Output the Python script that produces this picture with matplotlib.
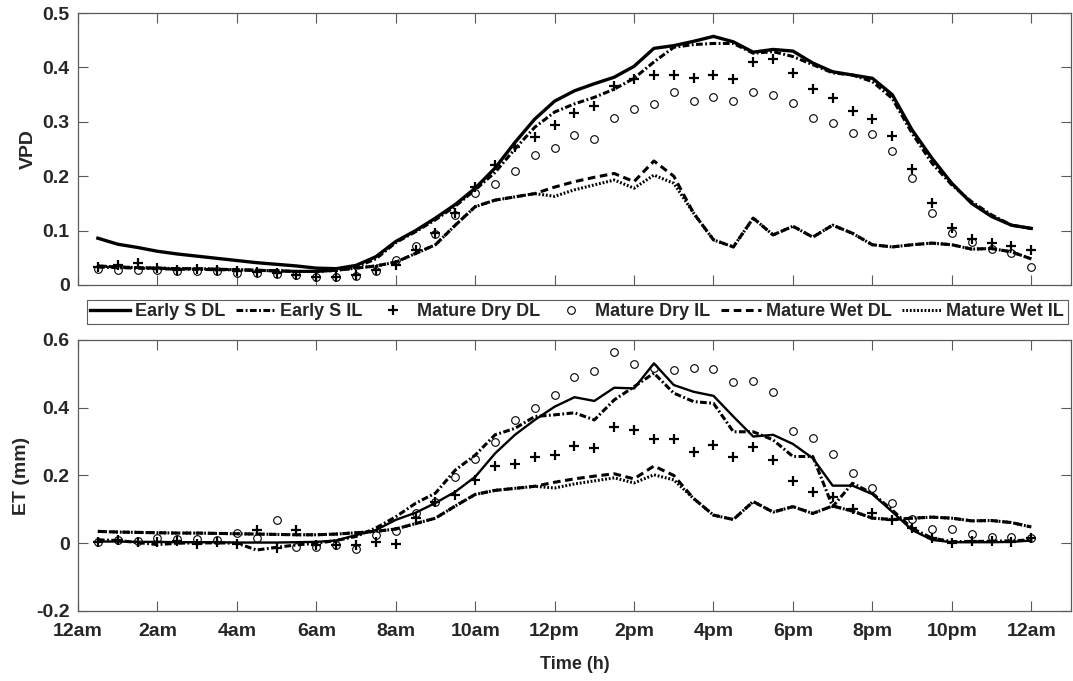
import matplotlib
matplotlib.use("Agg")
import matplotlib.pyplot as plt

plt.rcParams["font.family"] = ["Liberation Sans", "DejaVu Sans"]
plt.rcParams["font.weight"] = "bold"

# half-hourly time stamps, 0.5 h ... 24 h
hours = [0.5 * (i + 1) for i in range(48)]

tick_hours = [0, 2, 4, 6, 8, 10, 12, 14, 16, 18, 20, 22, 24]
tick_labels = ["12am", "2am", "4am", "6am", "8am", "10am", "12pm",
               "2pm", "4pm", "6pm", "8pm", "10pm", "12am"]

# ---- VPD (top panel) ----
vpd_early_dl = [0.086, 0.075, 0.069, 0.062, 0.057, 0.053, 0.049, 0.045, 0.041, 0.038,
                0.035, 0.031, 0.030, 0.036, 0.052, 0.080, 0.100, 0.123, 0.148, 0.178,
                0.215, 0.262, 0.305, 0.338, 0.357, 0.370, 0.382, 0.402, 0.435, 0.440,
                0.448, 0.457, 0.447, 0.428, 0.433, 0.430, 0.408, 0.392, 0.386, 0.380,
                0.350, 0.285, 0.233, 0.187, 0.150, 0.126, 0.110, 0.104]
vpd_early_il = [0.033, 0.032, 0.031, 0.030, 0.029, 0.029, 0.028, 0.028, 0.027, 0.026,
                0.025, 0.025, 0.027, 0.033, 0.048, 0.078, 0.098, 0.120, 0.145, 0.175,
                0.207, 0.250, 0.290, 0.318, 0.333, 0.345, 0.360, 0.380, 0.410, 0.437,
                0.442, 0.444, 0.444, 0.426, 0.429, 0.420, 0.405, 0.390, 0.386, 0.374,
                0.343, 0.279, 0.224, 0.184, 0.153, 0.129, 0.110, 0.104]
vpd_dry_dl = [0.033, 0.037, 0.040, 0.031, 0.028, 0.029, 0.028, 0.026, 0.024, 0.022,
              0.018, 0.015, 0.015, 0.018, 0.028, 0.037, 0.064, 0.095, 0.132, 0.180,
              0.220, 0.254, 0.272, 0.294, 0.316, 0.329, 0.366, 0.378, 0.386, 0.386,
              0.381, 0.386, 0.378, 0.410, 0.415, 0.390, 0.361, 0.343, 0.320, 0.305,
              0.273, 0.214, 0.150, 0.104, 0.084, 0.077, 0.072, 0.064]
vpd_dry_il = [0.030, 0.028, 0.027, 0.027, 0.026, 0.025, 0.025, 0.022, 0.022, 0.020,
              0.018, 0.015, 0.015, 0.017, 0.025, 0.046, 0.072, 0.094, 0.128, 0.169,
              0.186, 0.210, 0.239, 0.252, 0.276, 0.268, 0.307, 0.324, 0.333, 0.355,
              0.339, 0.345, 0.339, 0.355, 0.349, 0.335, 0.307, 0.298, 0.279, 0.278,
              0.246, 0.196, 0.132, 0.095, 0.079, 0.066, 0.059, 0.033]
# the wet-season curves are drawn identically in both panels of the original
wet_dl = [0.035, 0.033, 0.032, 0.031, 0.030, 0.030, 0.029, 0.028, 0.027, 0.026,
          0.025, 0.025, 0.027, 0.031, 0.035, 0.042, 0.058, 0.074, 0.110, 0.144,
          0.156, 0.162, 0.168, 0.180, 0.190, 0.198, 0.205, 0.190, 0.228, 0.200,
          0.132, 0.083, 0.070, 0.123, 0.092, 0.108, 0.088, 0.110, 0.095, 0.074,
          0.070, 0.074, 0.077, 0.074, 0.066, 0.067, 0.061, 0.048]
wet_il = [0.035, 0.033, 0.032, 0.031, 0.030, 0.030, 0.029, 0.028, 0.027, 0.026,
          0.025, 0.025, 0.027, 0.031, 0.035, 0.042, 0.058, 0.074, 0.110, 0.144,
          0.156, 0.162, 0.168, 0.163, 0.175, 0.184, 0.193, 0.178, 0.202, 0.187,
          0.132, 0.083, 0.070, 0.123, 0.092, 0.108, 0.088, 0.110, 0.095, 0.074,
          0.070, 0.074, 0.077, 0.074, 0.066, 0.067, 0.061, 0.048]

# ---- ET (bottom panel) ----
et_early_dl = [0.005, 0.005, 0.004, 0.004, 0.003, 0.003, 0.003, 0.002, 0.002, 0.002,
               0.003, 0.004, 0.008, 0.024, 0.039, 0.069, 0.090, 0.119, 0.152, 0.196,
               0.265, 0.320, 0.364, 0.403, 0.431, 0.420, 0.459, 0.457, 0.531, 0.467,
               0.447, 0.435, 0.374, 0.315, 0.320, 0.293, 0.251, 0.170, 0.170, 0.145,
               0.093, 0.039, 0.010, 0.003, 0.003, 0.003, 0.004, 0.008]
et_early_il = [0.010, 0.008, 0.002, -0.004, 0.000, 0.001, 0.001, 0.000, -0.020, -0.012,
               -0.005, 0.000, 0.008, 0.020, 0.045, 0.078, 0.118, 0.148, 0.216, 0.260,
               0.320, 0.339, 0.374, 0.379, 0.385, 0.364, 0.423, 0.462, 0.502, 0.443,
               0.418, 0.413, 0.329, 0.329, 0.305, 0.256, 0.256, 0.108, 0.177, 0.147,
               0.098, 0.044, 0.015, 0.005, 0.005, 0.006, 0.007, 0.010]
et_dry_dl = [0.003, 0.010, 0.003, 0.005, 0.008, -0.002, 0.005, -0.002, 0.040, -0.015,
             0.040, -0.005, -0.005, -0.005, 0.005, -0.002, 0.074, 0.123, 0.142, 0.187,
             0.228, 0.234, 0.255, 0.260, 0.287, 0.282, 0.344, 0.334, 0.308, 0.308,
             0.268, 0.291, 0.256, 0.285, 0.246, 0.184, 0.152, 0.137, 0.100, 0.090,
             0.069, 0.044, 0.015, 0.002, 0.008, 0.007, 0.005, 0.015]
et_dry_il = [0.003, 0.010, 0.008, 0.015, 0.012, 0.012, 0.010, 0.030, 0.015, 0.069,
             -0.012, -0.010, -0.005, -0.017, 0.024, 0.037, 0.090, 0.123, 0.196, 0.248,
             0.300, 0.364, 0.398, 0.438, 0.492, 0.509, 0.565, 0.528, 0.518, 0.511,
             0.516, 0.514, 0.475, 0.479, 0.447, 0.331, 0.310, 0.262, 0.206, 0.162,
             0.118, 0.072, 0.041, 0.043, 0.027, 0.018, 0.018, 0.015]

labels = ["Early S DL", "Early S IL", "Mature Dry DL",
          "Mature Dry IL", "Mature Wet DL", "Mature Wet IL"]

STYLE = {
    "Early S DL":    dict(color="black", linewidth=2.0, linestyle="-"),
    "Early S IL":    dict(color="black", linewidth=2.2, linestyle=(0, (2.2, 0.8, 0.6, 0.8))),
    "Mature Dry DL": dict(color="black", linestyle="none", marker="+",
                         markersize=7.5, markeredgewidth=1.6),
    "Mature Dry IL": dict(color="black", linestyle="none", marker="o",
                         markersize=5.5, markerfacecolor="none", markeredgewidth=0.8),
    "Mature Wet DL": dict(color="black", linewidth=2.2, linestyle=(0, (2.5, 1.5))),
    "Mature Wet IL": dict(color="black", linewidth=2.2, linestyle=(0, (0.6, 0.6))),
}

FRAME = "#5a5a5a"
TEXT = "#262626"

fig = plt.figure(figsize=(10.73, 6.81), dpi=100)
ax1 = fig.add_axes([0.0727, 0.5815, 0.9254, 0.3994])
ax2 = fig.add_axes([0.0727, 0.1028, 0.9254, 0.398])

top_series = [vpd_early_dl, vpd_early_il, vpd_dry_dl, vpd_dry_il, wet_dl, wet_il]
bot_series = [et_early_dl, et_early_il, et_dry_dl, et_dry_il, wet_dl, wet_il]

for ax, series, solid_lw in ((ax1, top_series, 2.4), (ax2, bot_series, 1.7)):
    for name, vals in zip(labels, series):
        st = dict(STYLE[name])
        if name == "Early S DL":
            st["linewidth"] = solid_lw
        ax.plot(hours, vals, label=name, **st)
    ax.set_xlim(0, 25)
    ax.set_xticks(tick_hours)
    ax.tick_params(direction="in", top=True, right=True, length=7, width=0.8,
                   color=FRAME, labelcolor=TEXT, labelsize=14)
    ax.tick_params(axis="x", pad=9)
    ax.tick_params(axis="y", pad=6)
    for sp in ax.spines.values():
        sp.set_color(FRAME)
        sp.set_linewidth(0.9)

ax1.set_ylim(0, 0.5)
ax1.set_yticks([0, 0.1, 0.2, 0.3, 0.4, 0.5])
ax1.set_yticklabels(["0", "0.1", "0.2", "0.3", "0.4", "0.5"])
ax1.set_xticklabels([])
ax1.set_ylabel("VPD", fontsize=14, fontweight="bold", color=TEXT)
ax1.yaxis.set_label_coords(-0.041, 0.5)

ax2.set_ylim(-0.2, 0.6)
ax2.set_yticks([-0.2, 0, 0.2, 0.4, 0.6])
ax2.set_yticklabels(["-0.2", "0", "0.2", "0.4", "0.6"])
ax2.set_xticklabels(tick_labels)
ax2.set_ylabel("ET (mm)", fontsize=14, fontweight="bold", color=TEXT)
ax2.yaxis.set_label_coords(-0.048, 0.5)
ax2.set_xlabel("Time (h)", fontsize=13, fontweight="bold", color=TEXT, labelpad=11)

handles, _ = ax1.get_legend_handles_labels()
leg = fig.legend(handles, labels, ncol=6, loc="center", bbox_to_anchor=(0.538, 0.542),
                 frameon=True, fancybox=False, edgecolor="#333333",
                 prop={"weight": "bold", "size": 13}, handlelength=2.2,
                 handletextpad=0.25, columnspacing=0.6, borderpad=0.2,
                 borderaxespad=0.2)
leg.get_frame().set_linewidth(0.8)
for t in leg.get_texts():
    t.set_color(TEXT)

fig.savefig("out.png", dpi=100)
